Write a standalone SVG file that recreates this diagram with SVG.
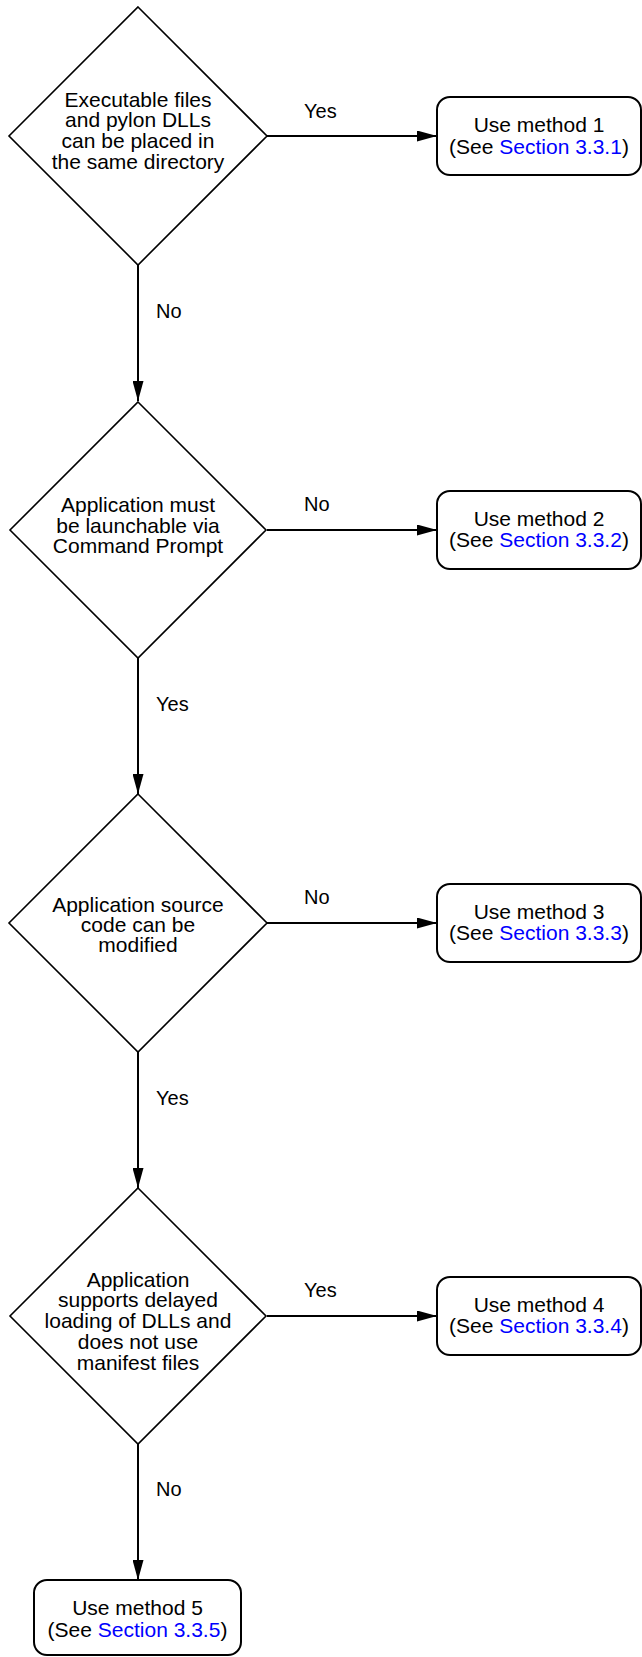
<svg xmlns="http://www.w3.org/2000/svg" width="642" height="1657" viewBox="0 0 642 1657">
<style>
.d{fill:#fff;stroke:#000;stroke-width:1.6}
.b{fill:#fff;stroke:#000;stroke-width:2}
.c{stroke:#000;stroke-width:2;fill:none;marker-end:url(#ah)}
text{font-family:"Liberation Sans",Arial,sans-serif;fill:#000}
.t{font-size:21px;text-anchor:middle}
.l{font-size:20px}
.k{fill:#0000ff}
</style>
<defs>
<marker id="ah" markerUnits="userSpaceOnUse" markerWidth="20" markerHeight="11" refX="20" refY="5.5" orient="auto">
<path d="M0,0 L20,5.5 L0,11 z" fill="#000"/>
</marker>
</defs>
<rect width="642" height="1657" fill="#fff"/>
<g id="connectors">
<line class="c" x1="267" y1="136" x2="437" y2="136"/>
<line class="c" x1="138" y1="265" x2="138" y2="401"/>
<line class="c" x1="267" y1="530" x2="437" y2="530"/>
<line class="c" x1="138" y1="658" x2="138" y2="794"/>
<line class="c" x1="267" y1="923" x2="437" y2="923"/>
<line class="c" x1="138" y1="1052" x2="138" y2="1188"/>
<line class="c" x1="267" y1="1316" x2="437" y2="1316"/>
<line class="c" x1="138" y1="1444" x2="138" y2="1580"/>
<text class="l" x="304" y="118">Yes</text>
<text class="l" x="156" y="318">No</text>
<text class="l" x="304" y="511">No</text>
<text class="l" x="156" y="711">Yes</text>
<text class="l" x="304" y="904">No</text>
<text class="l" x="156" y="1105">Yes</text>
<text class="l" x="304" y="1297">Yes</text>
<text class="l" x="156" y="1496">No</text>
</g>
<g id="d1">
<polygon class="d" points="138,7 267,136 138,265 9,136"/>
<text class="t" x="138" y="107">Executable files</text>
<text class="t" x="138" y="127">and pylon DLLs</text>
<text class="t" x="138" y="148">can be placed in</text>
<text class="t" x="138" y="169">the same directory</text>
</g>
<g id="m1">
<rect class="b" x="437" y="97" width="204" height="78" rx="13"/>
<text class="t" x="539" y="132">Use method 1</text>
<text class="t" x="539" y="154">(See <tspan class="k">Section 3.3.1</tspan>)</text>
</g>
<g id="d2">
<polygon class="d" points="138,402 266,530 138,658 10,530"/>
<text class="t" x="138" y="512">Application must</text>
<text class="t" x="138" y="533">be launchable via</text>
<text class="t" x="138" y="553">Command Prompt</text>
</g>
<g id="m2">
<rect class="b" x="437" y="491" width="204" height="78" rx="13"/>
<text class="t" x="539" y="526">Use method 2</text>
<text class="t" x="539" y="547">(See <tspan class="k">Section 3.3.2</tspan>)</text>
</g>
<g id="d3">
<polygon class="d" points="138,794 267,923 138,1052 9,923"/>
<text class="t" x="138" y="912">Application source</text>
<text class="t" x="138" y="932">code can be</text>
<text class="t" x="138" y="952">modified</text>
</g>
<g id="m3">
<rect class="b" x="437" y="884" width="204" height="78" rx="13"/>
<text class="t" x="539" y="919">Use method 3</text>
<text class="t" x="539" y="940">(See <tspan class="k">Section 3.3.3</tspan>)</text>
</g>
<g id="d4">
<polygon class="d" points="138,1188 266,1316 138,1444 10,1316"/>
<text class="t" x="138" y="1287">Application</text>
<text class="t" x="138" y="1307">supports delayed</text>
<text class="t" x="138" y="1328">loading of DLLs and</text>
<text class="t" x="138" y="1349">does not use</text>
<text class="t" x="138" y="1370">manifest files</text>
</g>
<g id="m4">
<rect class="b" x="437" y="1277" width="204" height="78" rx="13"/>
<text class="t" x="539" y="1312">Use method 4</text>
<text class="t" x="539" y="1333">(See <tspan class="k">Section 3.3.4</tspan>)</text>
</g>
<g id="m5">
<rect class="b" x="34" y="1580" width="207" height="75" rx="13"/>
<text class="t" x="137.5" y="1615">Use method 5</text>
<text class="t" x="137.5" y="1637">(See <tspan class="k">Section 3.3.5</tspan>)</text>
</g>
</svg>
